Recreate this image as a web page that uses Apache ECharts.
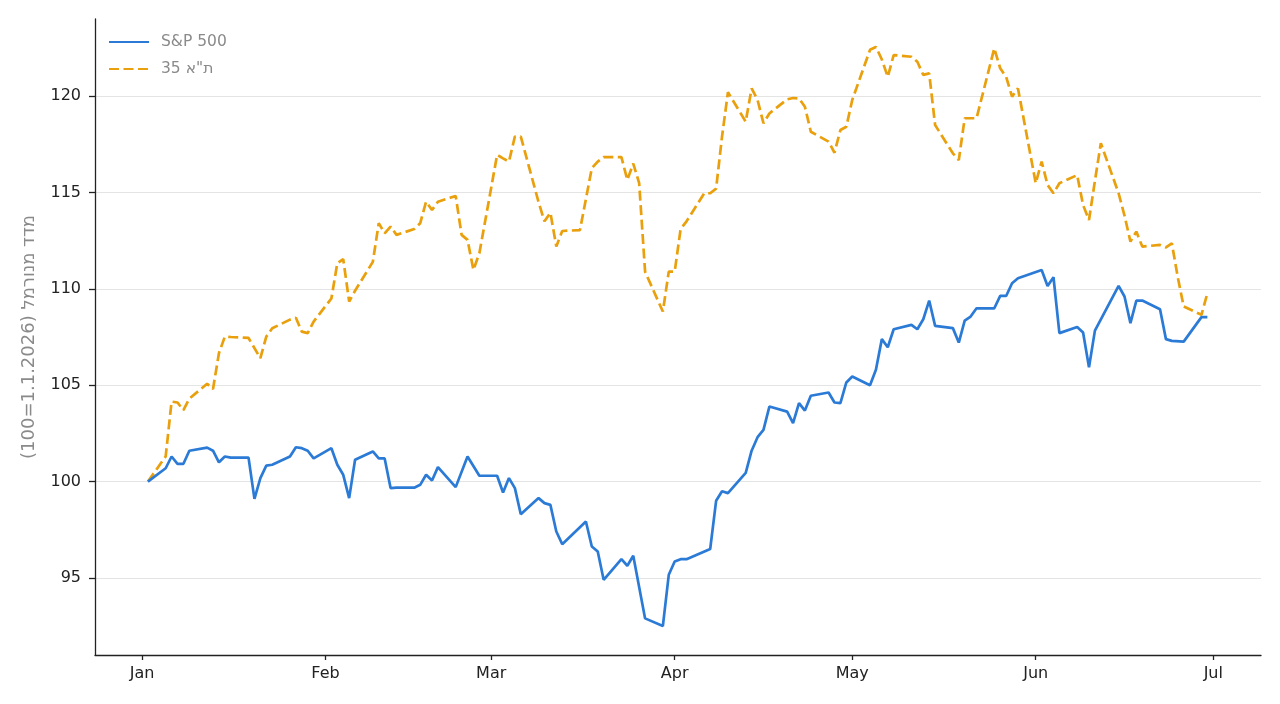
<!DOCTYPE html>
<html>
<head>
<meta charset="utf-8">
<script src="https://cdn.jsdelivr.net/npm/echarts@6/dist/echarts.min.js"></script>
<style>
  html, body { margin: 0; padding: 0; background: #fff; }
  #chart { width: 1280px; height: 704px; }
</style>
</head>
<body>
<div id="chart"></div>
<script>
// S&P 500, normalised to 100 on 1.1.2026
const spxDates = [
  "2026-01-02", "2026-01-05", "2026-01-06", "2026-01-07", "2026-01-08", "2026-01-09",
  "2026-01-12", "2026-01-13", "2026-01-14", "2026-01-15", "2026-01-16", "2026-01-19",
  "2026-01-20", "2026-01-21", "2026-01-22", "2026-01-23", "2026-01-26", "2026-01-27",
  "2026-01-28", "2026-01-29", "2026-01-30", "2026-02-02", "2026-02-03", "2026-02-04",
  "2026-02-05", "2026-02-06", "2026-02-09", "2026-02-10", "2026-02-11", "2026-02-12",
  "2026-02-13", "2026-02-16", "2026-02-17", "2026-02-18", "2026-02-19", "2026-02-20",
  "2026-02-23", "2026-02-25", "2026-02-27", "2026-03-02", "2026-03-03", "2026-03-04",
  "2026-03-05", "2026-03-06", "2026-03-09", "2026-03-10", "2026-03-11", "2026-03-12",
  "2026-03-13", "2026-03-17", "2026-03-18", "2026-03-19", "2026-03-20", "2026-03-23",
  "2026-03-24", "2026-03-25", "2026-03-27", "2026-03-30", "2026-03-31", "2026-04-01",
  "2026-04-02", "2026-04-03", "2026-04-07", "2026-04-08", "2026-04-09", "2026-04-10",
  "2026-04-13", "2026-04-14", "2026-04-15", "2026-04-16", "2026-04-17", "2026-04-20",
  "2026-04-21", "2026-04-22", "2026-04-23", "2026-04-24", "2026-04-27", "2026-04-28",
  "2026-04-29", "2026-04-30", "2026-05-01", "2026-05-04", "2026-05-05", "2026-05-06",
  "2026-05-07", "2026-05-08", "2026-05-11", "2026-05-12", "2026-05-13", "2026-05-14",
  "2026-05-15", "2026-05-18", "2026-05-19", "2026-05-20", "2026-05-21", "2026-05-22",
  "2026-05-25", "2026-05-26", "2026-05-27", "2026-05-28", "2026-05-29", "2026-06-02",
  "2026-06-03", "2026-06-04", "2026-06-05", "2026-06-08", "2026-06-09", "2026-06-10",
  "2026-06-11", "2026-06-15", "2026-06-16", "2026-06-17", "2026-06-18", "2026-06-19",
  "2026-06-22", "2026-06-23", "2026-06-24", "2026-06-26", "2026-06-29", "2026-06-30"
];
const spxValues = [
  100.0, 100.69, 101.3, 100.92, 100.92, 101.6,
  101.76, 101.6, 101.0, 101.3, 101.24, 101.24,
  99.1, 100.18, 100.83, 100.87, 101.3, 101.78,
  101.73, 101.6, 101.2, 101.73, 100.87, 100.35,
  99.14, 101.13, 101.56, 101.2, 101.2, 99.66,
  99.68, 99.68, 99.83, 100.35, 100.05, 100.75,
  99.71, 101.3, 100.3, 100.3, 99.43, 100.18,
  99.66, 98.3, 99.14, 98.88, 98.79, 97.41,
  96.75, 97.93, 96.63, 96.37, 94.9, 95.97,
  95.63, 96.15, 92.9, 92.5, 95.16, 95.85,
  95.97, 95.97, 96.5, 99.0, 99.5, 99.4,
  100.45, 101.6, 102.3, 102.68, 103.89, 103.63,
  103.03, 104.07, 103.68, 104.45, 104.62, 104.1,
  104.07, 105.14, 105.45, 105.0, 105.8, 107.39,
  106.97, 107.9, 108.13, 107.9, 108.42, 109.39,
  108.08, 107.96, 107.21, 108.35, 108.56, 108.99,
  108.99, 109.63, 109.63, 110.29, 110.55, 110.98,
  110.15, 110.6, 107.7, 108.02, 107.73, 105.93,
  107.83, 110.15, 109.6, 108.22, 109.39, 109.39,
  108.94, 107.39, 107.3, 107.26, 108.53, 108.53
];

// TA-35, normalised to 100 on 1.1.2026
const taDates = [
  "2026-01-02", "2026-01-05", "2026-01-06", "2026-01-07", "2026-01-08", "2026-01-09",
  "2026-01-12", "2026-01-13", "2026-01-14", "2026-01-15", "2026-01-16", "2026-01-19",
  "2026-01-21", "2026-01-22", "2026-01-23", "2026-01-26", "2026-01-27", "2026-01-28",
  "2026-01-29", "2026-01-30", "2026-02-02", "2026-02-03", "2026-02-04", "2026-02-05",
  "2026-02-06", "2026-02-09", "2026-02-10", "2026-02-11", "2026-02-12", "2026-02-13",
  "2026-02-16", "2026-02-17", "2026-02-18", "2026-02-19", "2026-02-20", "2026-02-23",
  "2026-02-24", "2026-02-25", "2026-02-26", "2026-02-27", "2026-03-02", "2026-03-03",
  "2026-03-04", "2026-03-05", "2026-03-06", "2026-03-09", "2026-03-10", "2026-03-11",
  "2026-03-12", "2026-03-13", "2026-03-16", "2026-03-18", "2026-03-19", "2026-03-20",
  "2026-03-23", "2026-03-24", "2026-03-25", "2026-03-26", "2026-03-27", "2026-03-30",
  "2026-03-31", "2026-04-01", "2026-04-02", "2026-04-03", "2026-04-06", "2026-04-07",
  "2026-04-08", "2026-04-09", "2026-04-10", "2026-04-13", "2026-04-14", "2026-04-15",
  "2026-04-16", "2026-04-17", "2026-04-20", "2026-04-21", "2026-04-22", "2026-04-23",
  "2026-04-24", "2026-04-27", "2026-04-28", "2026-04-29", "2026-04-30", "2026-05-01",
  "2026-05-04", "2026-05-05", "2026-05-06", "2026-05-07", "2026-05-08", "2026-05-11",
  "2026-05-12", "2026-05-13", "2026-05-14", "2026-05-15", "2026-05-18", "2026-05-19",
  "2026-05-20", "2026-05-21", "2026-05-22", "2026-05-25", "2026-05-26", "2026-05-27",
  "2026-05-28", "2026-05-29", "2026-06-01", "2026-06-02", "2026-06-03", "2026-06-04",
  "2026-06-05", "2026-06-08", "2026-06-09", "2026-06-10", "2026-06-11", "2026-06-12",
  "2026-06-15", "2026-06-16", "2026-06-17", "2026-06-18", "2026-06-19", "2026-06-22",
  "2026-06-23", "2026-06-24", "2026-06-25", "2026-06-26", "2026-06-29", "2026-06-30"
];
const taValues = [
  100.0, 101.3, 104.15, 104.1, 103.7, 104.3,
  105.07, 104.8, 106.66, 107.52, 107.5, 107.45,
  106.4, 107.52, 107.95, 108.4, 108.5, 107.78,
  107.7, 108.3, 109.5, 111.33, 111.54, 109.34,
  109.9, 111.4, 113.4, 112.88, 113.23, 112.8,
  113.1, 113.4, 114.52, 114.09, 114.52, 114.82,
  112.8, 112.54, 110.98, 111.85, 116.95, 116.77,
  116.6, 117.9, 117.9, 114.5, 113.5, 113.95,
  112.2, 113.0, 113.05, 116.26, 116.6, 116.83,
  116.83, 115.65, 116.5, 115.48, 110.89, 108.82,
  110.89, 110.89, 113.1, 113.5, 114.96, 114.96,
  115.2, 117.9, 120.2, 118.67, 120.4, 119.8,
  118.59, 119.1, 119.83, 119.9, 119.88, 119.45,
  118.15, 117.64, 117.06, 118.24, 118.41, 119.8,
  122.4, 122.55, 121.9, 121.0, 122.13, 122.04,
  121.78, 121.1, 121.18, 118.5, 117.03, 116.68,
  118.85, 118.85, 118.85, 122.48, 121.44, 121.0,
  119.97, 120.4, 115.48, 116.6, 115.39, 114.96,
  115.48, 115.9, 114.35, 113.57, 115.6, 117.55,
  114.96, 113.8, 112.45, 112.97, 112.19, 112.28,
  112.15, 112.36, 110.6, 109.08, 108.65, 109.77
];

const monthTicks = ["2026-01-01", "2026-02-01", "2026-03-01", "2026-04-01", "2026-05-01", "2026-06-01", "2026-07-01"];
const monthLabels = ["Jan", "Feb", "Mar", "Apr", "May", "Jun", "Jul"];
const yTicks = [95, 100, 105, 110, 115, 120];

const seriesNames = ["S&P 500", "35 ת\"א"];
const yAxisTitle = "(100=1.1.2026) מדד מנורמל";

const FONT = "DejaVu Sans";
const DAY = 86400000;

function toTime(s) {
  const p = s.split("-").map(Number);
  return Date.UTC(p[0], p[1] - 1, p[2]);
}

const tickTimes = monthTicks.map(toTime);
const spxData = spxDates.map((d, i) => [toTime(d), spxValues[i]]);
const taData = taDates.map((d, i) => [toTime(d), taValues[i]]);

const chart = echarts.init(document.getElementById("chart"), null, { renderer: "canvas" });

const option = {
  animation: false,
  backgroundColor: "#fff",
  grid: { left: 95, right: 19, top: 19, bottom: 49 },
  legend: {
    orient: "vertical",
    left: 108,
    top: 34,
    padding: 0,
    itemWidth: 40,
    itemHeight: 14,
    itemGap: 11,
    itemStyle: { opacity: 0 }, // line only, no marker in the legend
    textStyle: { color: "#8a8a8a", fontSize: 15.5, fontFamily: FONT, padding: [0, 0, 0, 7] },
    data: seriesNames,
  },
  // dates are plotted as timestamps on a value axis so the month ticks can be placed exactly
  xAxis: {
    type: "value",
    min: tickTimes[0] - 7.94 * DAY,
    max: tickTimes[6] + 8.06 * DAY,
    axisLine: { show: true, lineStyle: { color: "#222", width: 1.3 } },
    axisTick: { show: true, length: 5, lineStyle: { color: "#222", width: 1.3 }, customValues: tickTimes },
    axisLabel: {
      customValues: tickTimes,
      margin: 11,
      color: "#222",
      fontSize: 16,
      fontFamily: FONT,
      formatter: value => {
        const idx = tickTimes.indexOf(value);
        return idx >= 0 ? monthLabels[idx] : "";
      },
    },
    splitLine: { show: false },
  },
  yAxis: {
    type: "value",
    min: 91.0,
    max: 124.0,
    name: yAxisTitle,
    nameLocation: "middle",
    nameRotate: 90,
    nameGap: 57,
    nameTextStyle: { color: "#8a8a8a", fontSize: 18, fontFamily: FONT },
    axisLine: { show: true, lineStyle: { color: "#222", width: 1.3 } },
    axisTick: { show: true, length: 6, lineStyle: { color: "#222", width: 1.3 }, customValues: yTicks },
    axisLabel: { customValues: yTicks, margin: 14, color: "#222", fontSize: 16, fontFamily: FONT },
    splitLine: { show: true, lineStyle: { color: "#e4e4e4", width: 1.2 } },
  },
  series: [
    {
      name: seriesNames[0],
      type: "line",
      data: spxData,
      showSymbol: false,
      symbol: "none",
      color: "#2b7bd6",
      lineStyle: { color: "#2b7bd6", width: 2.7 },
      z: 3,
    },
    {
      name: seriesNames[1],
      type: "line",
      data: taData,
      showSymbol: false,
      symbol: "none",
      color: "#e9a00c",
      lineStyle: { color: "#e9a00c", width: 2.7, type: [10, 4.5] },
      z: 2,
    },
  ],
};

chart.setOption(option);
</script>
</body>
</html>
